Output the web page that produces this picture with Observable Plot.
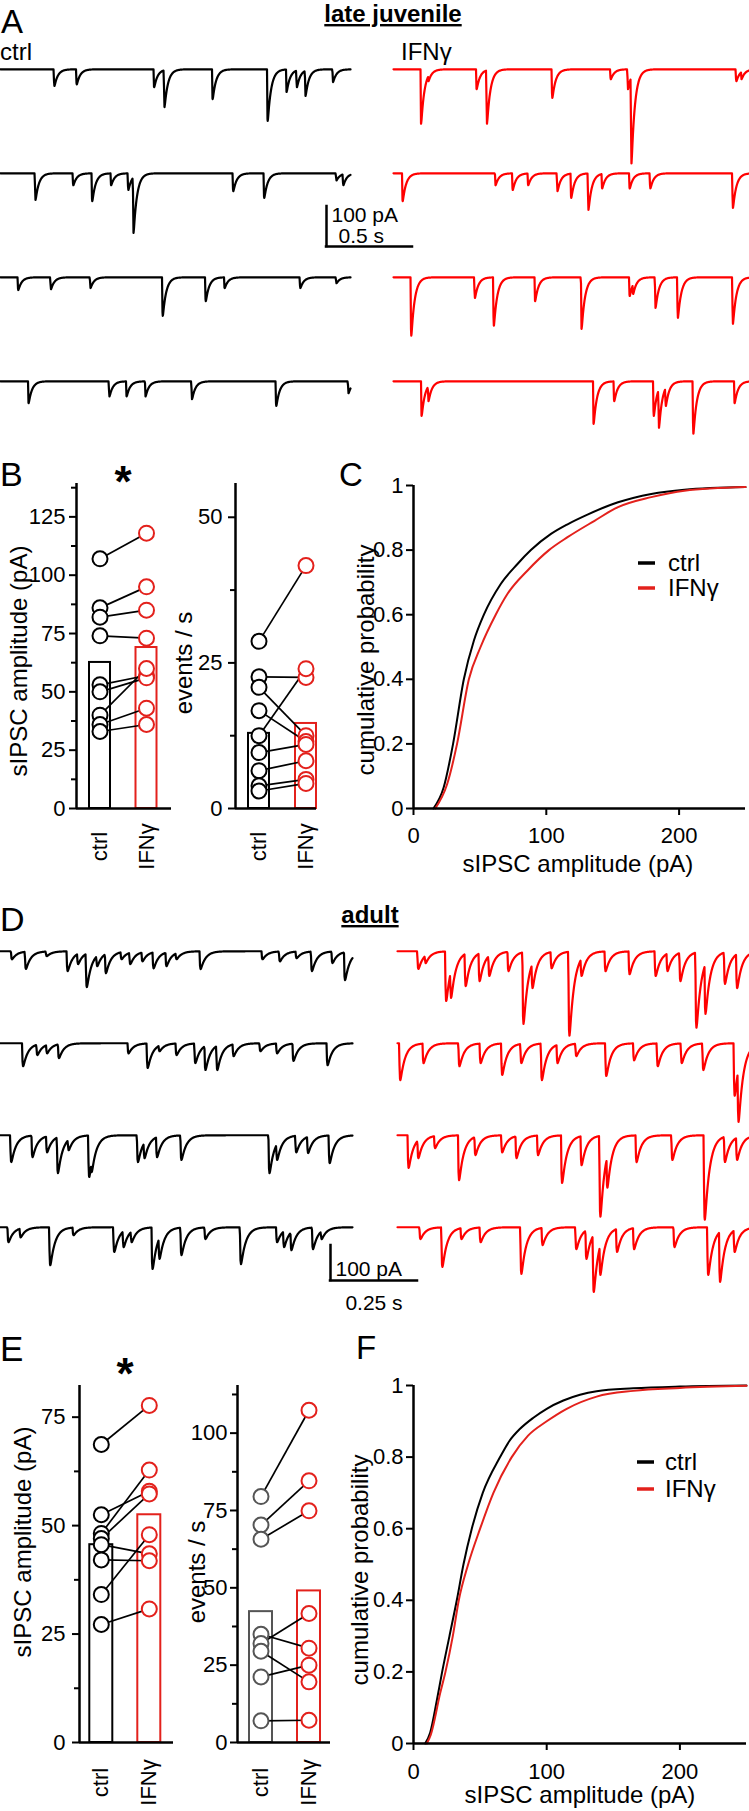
<!DOCTYPE html>
<html>
<head>
<meta charset="utf-8">
<script src="https://cdn.jsdelivr.net/npm/d3@7"></script>
<script src="https://cdn.jsdelivr.net/npm/@observablehq/plot@0.6"></script>
<style>
  body { margin: 0; background: #fff; }
  #fig { position: relative; width: 749px; height: 1811px; overflow: hidden; background: #fff; }
  #fig > div { position: absolute; }
  #fig svg { overflow: visible; }
</style>
</head>
<body>
<div id="fig"></div>
<script>
// ---------------- DATA ----------------
const groups = ["ctrl", "IFNγ"];

// Panel A (late juvenile) traces: events as [time (s), amplitude (pA)]
const aCtrl1 = [[0.31,42],[0.44,38],[0.89,45],[0.95,95],[1.23,75],[1.55,130],[1.66,57],[1.72,45],[1.77,67],[1.93,32]];
const aCtrl2 = [[0.20,67],[0.42,30],[0.53,70],[0.64,30],[0.74,42],[0.77,150],[1.35,45],[1.53,62],[1.95,18],[1.99,30]];
const aCtrl3 = [[0.10,32],[0.29,30],[0.52,27],[0.94,97],[1.19,60],[1.30,27],[1.74,27],[1.95,15]];
const aCtrl4 = [[0.16,55],[0.63,38],[0.73,38],[0.84,38],[1.11,45],[1.60,62],[2.02,30]];
const aIfn1 = [[0.157,137],[0.20,30],[0.48,50],[0.54,137],[0.92,72],[1.26,25],[1.36,50],[1.38,237],[1.99,30],[2.02,25]];
const aIfn2 = [[0.05,70],[0.59,30],[0.69,42],[0.78,30],[0.95,45],[1.03,62],[1.13,92],[1.21,38],[1.37,38],[1.49,38],[1.97,87]];
const aIfn3 = [[0.10,147],[0.47,52],[0.58,122],[0.82,60],[1.09,130],[1.37,47],[1.39,42],[1.52,77],[1.65,102],[1.97,117]];
const aIfn4 = [[0.16,87],[0.20,50],[1.16,107],[1.28,50],[1.51,87],[1.54,117],[1.58,62],[1.74,132],[1.98,55]];

// Panel D (adult) traces
const dCtrl1 = [[0.03,23],[0.07,51],[0.13,14],[0.19,57],[0.22,37],[0.245,103],[0.275,43],[0.30,63],[0.345,23],[0.37,37],[0.405,29],[0.437,49],[0.474,43],[0.503,23],[0.572,51],[0.75,23],[0.80,29],[0.848,20],[0.892,57],[0.951,34],[0.987,83]];
const dCtrl2 = [[0.062,66],[0.103,34],[0.131,29],[0.165,43],[0.365,29],[0.42,71],[0.454,23],[0.503,34],[0.557,57],[0.586,77],[0.62,77],[0.667,37],[0.744,23],[0.792,29],[0.839,51],[0.937,63]];
const dCtrl3 = [[0.028,77],[0.089,63],[0.131,49],[0.162,109],[0.193,43],[0.252,120],[0.259,106],[0.392,77],[0.411,66],[0.447,63],[0.517,71],[0.77,109],[0.792,71],[0.847,49],[0.881,51],[0.943,80]];
const dCtrl4 = [[0.02,43],[0.055,29],[0.14,109],[0.207,23],[0.324,71],[0.351,57],[0.374,43],[0.434,120],[0.454,91],[0.517,80],[0.586,34],[0.688,106],[0.792,43],[0.812,57],[0.833,66],[0.895,63],[0.92,34]];
const dIfn1 = [[0.057,51],[0.078,34],[0.137,143],[0.151,134],[0.193,100],[0.233,86],[0.261,71],[0.316,57],[0.359,209],[0.385,106],[0.44,49],[0.491,243],[0.526,71],[0.595,57],[0.664,66],[0.739,71],[0.773,57],[0.81,86],[0.856,220],[0.882,180],[0.938,94],[0.973,106]];
const dIfn2 = [[0.005,106],[0.072,57],[0.175,66],[0.236,57],[0.298,91],[0.353,57],[0.412,106],[0.457,57],[0.511,37],[0.597,94],[0.677,49],[0.745,66],[0.814,57],[0.876,77],[0.966,151],[0.977,226]];
const dIfn3 = [[0.029,94],[0.057,66],[0.105,37],[0.174,129],[0.221,57],[0.298,49],[0.339,66],[0.401,57],[0.470,137],[0.526,86],[0.580,234],[0.60,151],[0.684,77],[0.787,71],[0.88,243],[0.938,77],[0.973,71]];
const dIfn4 = [[0.063,34],[0.126,114],[0.181,34],[0.236,43],[0.353,134],[0.414,51],[0.511,63],[0.54,91],[0.561,186],[0.580,137],[0.628,71],[0.677,63],[0.793,57],[0.89,137],[0.924,157],[0.966,71]];

// Scale bars
const scaleA = {pA: 100, s: 0.5};
const scaleD = {pA: 100, s: 0.25};

// Panel B (late juvenile) paired values
const bAmpCtrl = [107, 86, 82, 74, 53, 50, 40, 36, 33];
const bAmpIfn  = [118, 95, 85, 73, 57, 56, 60, 43, 36];
const bAmpMean = [62.6, 69.0];
const bEvtCtrl = [28.7, 22.6, 20.8, 16.8, 12.5, 9.6, 6.5, 3.9, 3.0];
const bEvtIfn  = [41.7, 22.5, 12.5, 11.5, 24.0, 11.0, 8.2, 5.0, 4.3];
const bEvtMean = [12.9, 14.6];
const bAmpTicks = [0, 25, 50, 75, 100, 125];
const bEvtTicks = [0, 25, 50];

// Panel E (adult) paired values
const eAmpCtrl = [68.7, 52.5, 48.2, 47.0, 45.6, 42.1, 34.1, 27.2];
const eAmpIfn  = [77.7, 57.9, 62.8, 57.3, 43.5, 41.9, 47.9, 30.8];
const eAmpMean = [45.6, 52.5];
const eEvtCtrl = [79.5, 70.3, 65.7, 35.0, 32.0, 29.5, 21.2, 7.0];
const eEvtIfn  = [107.4, 84.6, 74.9, 30.5, 41.7, 19.6, 25.0, 7.2];
const eEvtMean = [42.3, 49.0];
const eAmpTicks = [0, 25, 50, 75];
const eEvtTicks = [0, 25, 50, 75, 100];

// Cumulative distributions [amplitude (pA), probability]
const cCtrl = [[15,0],[22.7,0.065],[29.8,0.2],[37.9,0.40],[45.5,0.52],[53,0.6],[65.7,0.695],[78.3,0.757],[88.4,0.8],[103.5,0.85],[116,0.88],[131,0.91],[154,0.948],[179,0.974],[204,0.987],[250,0.995]];
const cIfn  = [[16.4,0],[25.3,0.075],[32.8,0.2],[41.7,0.4],[50.5,0.50],[61.9,0.6],[70.7,0.664],[85.9,0.737],[102,0.8],[116,0.84],[136,0.89],[154,0.933],[179,0.964],[204,0.984],[250,0.995]];
const fCtrl = [[8.75,0],[12.5,0.03],[17.5,0.12],[21.5,0.2],[27,0.3],[32.5,0.4],[37.5,0.5],[43.75,0.6],[52,0.7],[65,0.8],[72,0.845],[80,0.879],[90,0.91],[100,0.935],[112.5,0.958],[125,0.974],[137.5,0.984],[165,0.992],[200,0.997],[250,1.0]];
const fIfn  = [[10,0],[13,0.025],[20,0.14],[24,0.2],[29.5,0.3],[34,0.4],[41,0.5],[50,0.6],[60,0.7],[73.75,0.8],[86,0.86],[100,0.9],[115,0.935],[137.5,0.969],[165,0.985],[200,0.993],[250,0.999]];
const cdfYTicks = [0, 0.2, 0.4, 0.6, 0.8, 1];
const cdfXTicks = [0, 100, 200];

// ---------------- RENDERING ----------------
const FONT = "'Liberation Sans', Arial, Helvetica, sans-serif";
const RED_TRACE = "#ff0000";
const RED = "#e3211c";
const GREY = "#555555";
const fig = document.getElementById("fig");

function place(node, left, top) {
  const d = document.createElement("div");
  d.style.left = left + "px";
  d.style.top = top + "px";
  d.appendChild(node);
  fig.appendChild(d);
}
function st() {
  return {fontFamily: FONT, fontSize: "22px", background: "transparent", overflow: "visible", color: "#000"};
}

// trace built from read event list: each event has a fast onset and exponential decay
function buildTrace(events, dur, dt, rise, decay) {
  const tp = rise * Math.log((rise + decay) / rise);
  const kp = (1 - Math.exp(-tp / rise)) * Math.exp(-tp / decay);
  const ts = d3.range(0, dur + dt / 2, dt)
    .concat(events.map(e => e[0] + tp))
    .filter(t => t <= dur)
    .sort((a, b) => a - b);
  return ts.map(t => {
    let m = 0;
    for (const [t0, a] of events) {
      const s = t - t0;
      if (s > 0) {
        const k = (1 - Math.exp(-s / rise)) * Math.exp(-s / decay) / kp;
        if (a * k > m) m = a * k;
      }
    }
    return {t, v: -m};
  });
}

function tracePlot(rows, {width, pxPerS, pxPerPA, rowH, top0, color, decay}) {
  const dur = width / pxPerS;
  const data = rows.flatMap((ev, i) =>
    buildTrace(ev, dur, 0.5 / pxPerS, 0.0012, decay).map(p => ({...p, row: i})));
  return Plot.plot({
    width, height: rows.length * rowH,
    marginTop: 0, marginBottom: 0, marginLeft: 0, marginRight: 0,
    style: st(),
    x: {domain: [0, dur], axis: null},
    y: {domain: [-(rowH - top0) / pxPerPA, top0 / pxPerPA], axis: null},
    fy: {domain: d3.range(rows.length), axis: null, padding: 0},
    marks: [
      Plot.line(data, {x: "t", y: "v", fy: "row", stroke: color, strokeWidth: 2.2, strokeLinejoin: "round"})
    ]
  });
}

function scaleBarPlot(sb, pxPerS, pxPerPA, opts) {
  const w = sb.s * pxPerS, h = sb.pA * pxPerPA;
  return Plot.plot({
    width: 2 + w + 100, height: 2 + h + 45,
    marginLeft: 2, marginTop: 2, marginRight: 100, marginBottom: 45,
    style: st(),
    x: {domain: [0, sb.s], axis: null},
    y: {domain: [0, sb.pA], axis: null},
    marks: [
      Plot.ruleX([sb], {x: () => 0, y1: () => 0, y2: d => d.pA, strokeWidth: 2.5, strokeLinecap: "square"}),
      Plot.ruleY([sb], {y: () => 0, x1: () => 0, x2: d => d.s, strokeWidth: 2.5, strokeLinecap: "square"}),
      Plot.text([sb], {x: () => 0, y: opts.paY, text: d => `${d.pA} pA`, dx: 5, dy: opts.paDy, textAnchor: "start", lineAnchor: opts.paAnchor, fontSize: 21}),
      Plot.text([sb], {x: opts.sX, y: () => 0, text: d => `${d.s} s`, dx: opts.sDx, dy: opts.sDy, textAnchor: opts.sAnchor, lineAnchor: opts.sLine, fontSize: 21})
    ]
  });
}

function pairPlot(c) {
  const k = c.c2 - c.c1;
  const xd = [1 - (c.c1 - c.axisX) / k, 2 + (c.rightX - c.c2) / k];
  const hw = c.barW / 2 / k;
  const ctrlPts = c.ctrl.map(v => ({x: 1, v}));
  const ifnPts = c.ifn.map(v => ({x: 2, v}));
  const pairs = c.ctrl.map((v, i) => ({x1: 1, x2: 2, y1: v, y2: c.ifn[i]}));
  const bars = c.means.map((v, i) => ({x: i + 1, v}));
  const labels = groups.map((name, i) => ({x: i + 1, name}));
  const step = c.major[1] - c.major[0];
  const minor = c.major.map(v => v + step / 2).filter(v => v < c.yMax);
  return Plot.plot({
    width: c.width, height: c.height,
    marginLeft: c.axisX - c.left, marginRight: c.left + c.width - c.rightX,
    marginTop: c.topY - c.top, marginBottom: c.top + c.height - c.zeroY,
    style: st(),
    x: {domain: xd, axis: null},
    y: {domain: [0, c.yMax]},
    marks: [
      Plot.rect(bars.filter(d => d.x === 1), {x1: d => d.x - hw, x2: d => d.x + hw, y1: () => 0, y2: "v", fill: "white", stroke: c.ctrlColor, strokeWidth: 2}),
      Plot.rect(bars.filter(d => d.x === 2), {x1: d => d.x - hw, x2: d => d.x + hw, y1: () => 0, y2: "v", fill: "white", stroke: RED, strokeWidth: 2}),
      Plot.link(pairs, {x1: "x1", x2: "x2", y1: "y1", y2: "y2", stroke: "black", strokeWidth: 1.7}),
      Plot.dot(ctrlPts, {x: "x", y: "v", r: 7.5, fill: "white", stroke: c.ctrlColor, strokeWidth: 2}),
      Plot.dot(ifnPts, {x: "x", y: "v", r: 7.5, fill: "white", stroke: RED, strokeWidth: 2}),
      Plot.ruleX([xd[0]], {y1: () => 0, y2: () => c.yMax, strokeWidth: 2.5}),
      Plot.ruleY([0], {x1: () => xd[0], x2: () => xd[1], strokeWidth: 2.5}),
      Plot.axisY({ticks: c.major, tickSize: 7, tickPadding: c.tickPadding, tickFormat: d => String(d), strokeWidth: 2, label: null, fontSize: 22}),
      Plot.axisY({ticks: minor, tickSize: 5, tickFormat: () => "", strokeWidth: 2, label: null}),
      Plot.text(labels, {x: "x", y: () => 0, text: "name", rotate: -90, dy: c.labelDy, fontSize: 22, textAnchor: "middle"})
    ]
  });
}

function cdfPlot(c) {
  return Plot.plot({
    width: c.width, height: c.height,
    marginLeft: c.axisX - c.left, marginRight: c.left + c.width - c.rightX,
    marginTop: c.topY - c.top, marginBottom: c.top + c.height - c.zeroY,
    style: st(),
    x: {domain: [0, 250]},
    y: {domain: [0, 1]},
    marks: [
      Plot.line(c.ctrl, {x: d => d[0], y: d => d[1], stroke: "black", strokeWidth: 2, curve: "monotone-x"}),
      Plot.line(c.ifn, {x: d => d[0], y: d => d[1], stroke: RED, strokeWidth: 2, curve: "monotone-x"}),
      Plot.ruleX([0], {strokeWidth: 2.5}),
      Plot.ruleY([0], {strokeWidth: 2.5}),
      Plot.axisY({ticks: cdfYTicks, tickSize: 7, tickPadding: 3, tickFormat: d => String(d), strokeWidth: 2, label: null, fontSize: 22}),
      Plot.axisX({ticks: cdfXTicks, tickSize: 7, tickPadding: c.tickPadX, tickFormat: d => String(d), strokeWidth: 2, label: null, fontSize: 22})
    ]
  });
}

// ----- Panel A traces -----
const A = {pxPerS: 172, pxPerPA: 0.4, rowH: 104.7, top0: 30, decay: 0.02};
place(tracePlot([aCtrl1, aCtrl2, aCtrl3, aCtrl4], {...A, width: 350, color: "#000"}), 0, 38);
place(tracePlot([aIfn1, aIfn2, aIfn3, aIfn4], {...A, width: 356, color: RED_TRACE}), 393, 38);
place(scaleBarPlot(scaleA, A.pxPerS, A.pxPerPA, {
  paY: d => d.pA, paDy: 1, paAnchor: "top",
  sX: () => 0, sDx: 12, sDy: -4, sAnchor: "start", sLine: "bottom"
}), 324, 204);

// ----- Panel B -----
place(pairPlot({left: 0, top: 440, width: 185, height: 460, axisX: 76, rightX: 171, topY: 483, zeroY: 808,
  c1: 99.5, c2: 146, yMax: 139.3, major: bAmpTicks, ctrl: bAmpCtrl, ifn: bAmpIfn, means: bAmpMean,
  ctrlColor: "#000", tickPadding: 4, barW: 21, labelDy: 38}), 0, 440);
place(pairPlot({left: 150, top: 440, width: 175, height: 460, axisX: 235, rightX: 316, topY: 483, zeroY: 808,
  c1: 258.5, c2: 305.5, yMax: 55.8, major: bEvtTicks, ctrl: bEvtCtrl, ifn: bEvtIfn, means: bEvtMean,
  ctrlColor: "#000", tickPadding: 6, barW: 21, labelDy: 38}), 150, 440);

// ----- Panel C -----
place(cdfPlot({left: 300, top: 440, width: 449, height: 460, axisX: 413, rightX: 745, topY: 485, zeroY: 808,
  ctrl: cCtrl, ifn: cIfn, tickPadX: 12}), 300, 440);

// ----- Panel D traces -----
const D = {pxPerS: 348, pxPerPA: 0.35, rowH: 92.7, top0: 30, decay: 0.014};
place(tracePlot([dCtrl1, dCtrl2, dCtrl3, dCtrl4], {...D, width: 352, color: "#000"}), 0, 920);
place(tracePlot([dIfn1, dIfn2, dIfn3, dIfn4], {...D, width: 352, color: RED_TRACE}), 397, 920);
place(scaleBarPlot(scaleD, D.pxPerS, D.pxPerPA, {
  paY: () => 0, paDy: -5, paAnchor: "bottom",
  sX: d => d.s / 2, sDx: 0, sDy: 15, sAnchor: "middle", sLine: "top"
}), 328, 1243);

// ----- Panel E -----
place(pairPlot({left: 0, top: 1320, width: 185, height: 491, axisX: 79, rightX: 173, topY: 1385, zeroY: 1742,
  c1: 100.8, c2: 148.8, yMax: 82.3, major: eAmpTicks, ctrl: eAmpCtrl, ifn: eAmpIfn, means: eAmpMean,
  ctrlColor: "#000", tickPadding: 7, barW: 23, labelDy: 40}), 0, 1320);
place(pairPlot({left: 150, top: 1320, width: 190, height: 491, axisX: 237, rightX: 330, topY: 1385, zeroY: 1742,
  c1: 260.5, c2: 308.5, yMax: 115.4, major: eEvtTicks, ctrl: eEvtCtrl, ifn: eEvtIfn, means: eEvtMean,
  ctrlColor: GREY, tickPadding: 3, barW: 23, labelDy: 40}), 150, 1320);

// ----- Panel F -----
place(cdfPlot({left: 300, top: 1320, width: 449, height: 491, axisX: 413, rightX: 746, topY: 1385, zeroY: 1743,
  ctrl: fCtrl, ifn: fIfn, tickPadX: 13}), 300, 1320);

// ----- Text overlay: panel letters, titles, axis titles, legends -----
const overlayText = [
  {x: 1, y: 33, t: "A", size: 33},
  {x: 393, y: 22, t: "late juvenile", size: 24, bold: true, anchor: "middle", underline: true},
  {x: 0, y: 60, t: "ctrl", size: 24},
  {x: 401, y: 60, t: "IFNγ", size: 24},
  {x: 0, y: 486, t: "B", size: 34},
  {x: 123, y: 497, t: "*", size: 44, bold: true, anchor: "middle"},
  {x: 339, y: 486, t: "C", size: 33},
  {x: 0, y: 931, t: "D", size: 34},
  {x: 370, y: 923, t: "adult", size: 24, bold: true, anchor: "middle", underline: true},
  {x: 0, y: 1361, t: "E", size: 35},
  {x: 125, y: 1389, t: "*", size: 44, bold: true, anchor: "middle"},
  {x: 356, y: 1359, t: "F", size: 33},
  {x: 27, y: 661, t: "sIPSC amplitude (pA)", size: 24, anchor: "middle", rot: -90},
  {x: 192, y: 663, t: "events / s", size: 24, anchor: "middle", rot: -90},
  {x: 374, y: 660, t: "cumulative probability", size: 24, anchor: "middle", rot: -90},
  {x: 578, y: 872, t: "sIPSC amplitude (pA)", size: 24, anchor: "middle"},
  {x: 31, y: 1542, t: "sIPSC amplitude (pA)", size: 24, anchor: "middle", rot: -90},
  {x: 205, y: 1572, t: "events / s", size: 24, anchor: "middle", rot: -90},
  {x: 368, y: 1570, t: "cumulative probability", size: 24, anchor: "middle", rot: -90},
  {x: 580, y: 1803, t: "sIPSC amplitude (pA)", size: 24, anchor: "middle"}
];
const legends = [
  {x: 638, y: 563, dy: 25, textX: 668},
  {x: 637, y: 1462, dy: 27, textX: 665}
];

const svg = d3.create("svg")
  .attr("width", 749).attr("height", 1811)
  .style("position", "absolute").style("left", "0px").style("top", "0px")
  .style("font-family", FONT).style("pointer-events", "none");
for (const d of overlayText) {
  const t = svg.append("text")
    .attr("font-size", d.size)
    .attr("text-anchor", d.anchor || "start")
    .attr("fill", "#000")
    .text(d.t);
  if (d.bold) t.attr("font-weight", "bold");
  if (d.underline) t.attr("text-decoration", "underline");
  if (d.rot) t.attr("transform", `translate(${d.x},${d.y}) rotate(${d.rot})`);
  else t.attr("x", d.x).attr("y", d.y);
}
for (const L of legends) {
  groups.forEach((g, i) => {
    const y = L.y + i * L.dy;
    svg.append("line").attr("x1", L.x).attr("x2", L.x + 17).attr("y1", y).attr("y2", y)
      .attr("stroke", i === 0 ? "#000" : RED).attr("stroke-width", 3.5);
    svg.append("text").attr("x", L.textX).attr("y", y + 8).attr("font-size", 24).text(g);
  });
}
fig.appendChild(svg.node());
</script>
</body>
</html>
